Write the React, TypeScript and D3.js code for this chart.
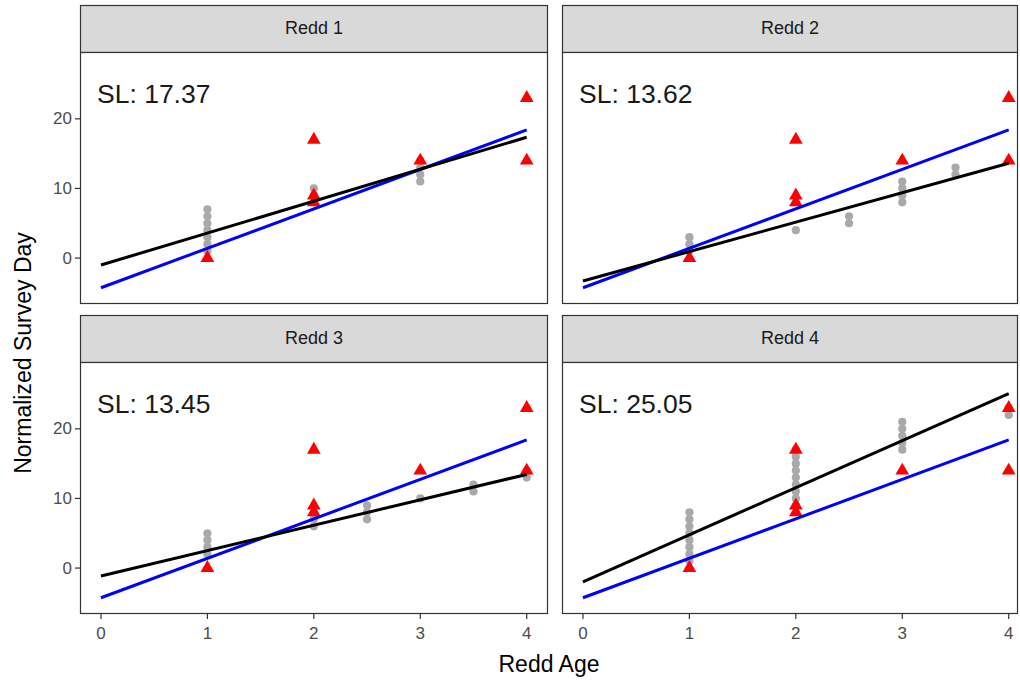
import React from "react";
import * as d3 from "d3";

// ---- data ----
const reddNames = ["Redd 1", "Redd 2", "Redd 3", "Redd 4"];
const slValues = [17.37, 13.62, 13.45, 25.05];
const blackIntercepts = [-1.0, -3.3, -1.15, -1.97];
const blackSlopes = [4.59, 4.23, 3.65, 6.755];
const blueIntercept = -4.27;
const blueSlope = 5.67;

const redAges = [1, 2, 2, 2, 3, 4, 4];
const redDays = [0, 17, 9, 8, 14, 23, 14];

const grayAges1 = [1, 1, 1, 1, 1, 1, 1, 2, 2, 2, 3, 3, 3, 3];
const grayDays1 = [1, 2, 3, 4, 5, 6, 7, 8, 9, 10, 11, 12, 13, 14];
const grayAges2 = [1, 1, 1, 2, 2.5, 2.5, 3, 3, 3, 3, 3.5, 3.5];
const grayDays2 = [1, 2, 3, 4, 5, 6, 8, 9, 10, 11, 12, 13];
const grayAges3 = [1, 1, 1, 1, 2, 2, 2, 2.5, 2.5, 2.5, 3, 3.5, 3.5, 4, 4];
const grayDays3 = [2, 3, 4, 5, 6, 7, 8, 7, 8, 9, 10, 11, 12, 13, 14];
const grayAges4 = [1, 1, 1, 1, 1, 1, 1, 1, 2, 2, 2, 2, 2, 2, 2, 2, 2, 3, 3, 3, 3, 3, 4, 4];
const grayDays4 = [1, 2, 3, 4, 5, 6, 7, 8, 9, 10, 11, 12, 13, 14, 15, 16, 17, 17, 18, 19, 20, 21, 22, 23];
const grayAges = [grayAges1, grayAges2, grayAges3, grayAges4];
const grayDays = [grayDays1, grayDays2, grayDays3, grayDays4];

const xTicks = [0, 1, 2, 3, 4];
const yTicks = [0, 10, 20];
const xDomain: [number, number] = [-0.197, 4.2];
const yDomain: [number, number] = [-6.6, 29.6];

// ---- layout ----
const W = 1020;
const H = 682;
const colLeft = [80, 562];
const colRight = [548, 1018];
const rowStripTop = [5, 315];
const rowPanelTop = [52, 362];
const rowPanelBottom = [304, 614];
const panelWidth = 468;

const FONT = "'Liberation Sans', Arial, sans-serif";

function Panel({ i }: { i: number }) {
  const col = i % 2;
  const row = Math.floor(i / 2);
  const x0 = colLeft[col];
  const x = d3.scaleLinear().domain(xDomain).range([x0, x0 + panelWidth]);
  const y = d3
    .scaleLinear()
    .domain(yDomain)
    .range([rowPanelBottom[row], rowPanelTop[row]]);
  const pw = colRight[col] - x0;
  const ph = rowPanelBottom[row] - rowPanelTop[row];
  const clipId = `clip${i}`;
  const tri = d3.symbol().type(d3.symbolTriangle).size(82)();
  const blackFn = (a: number) => blackIntercepts[i] + blackSlopes[i] * a;
  const blueFn = (a: number) => blueIntercept + blueSlope * a;
  const lineXs = [0, 4];
  const bl = d3
    .line<number>()
    .x((d) => x(d))
    .y((d) => y(blackFn(d)));
  const bu = d3
    .line<number>()
    .x((d) => x(d))
    .y((d) => y(blueFn(d)));
  return (
    <g>
      <defs>
        <clipPath id={clipId}>
          <rect x={x0} y={rowPanelTop[row]} width={pw} height={ph} />
        </clipPath>
      </defs>
      {/* strip */}
      <rect
        x={x0 + 0.5}
        y={rowStripTop[row] + 0.5}
        width={pw - 1}
        height={rowPanelTop[row] - rowStripTop[row]}
        fill="#D9D9D9"
        stroke="#333333"
        strokeWidth={1.2}
      />
      <text
        x={x0 + pw / 2}
        y={(rowStripTop[row] + rowPanelTop[row]) / 2 + 1}
        textAnchor="middle"
        dominantBaseline="middle"
        fontFamily={FONT}
        fontSize={18}
        fill="#1A1A1A"
      >
        {reddNames[i]}
      </text>
      <rect x={x0} y={rowPanelTop[row]} width={pw} height={ph} fill="white" />
      <g clipPath={`url(#${clipId})`}>
        {grayAges[i].map((a, k) => (
          <circle key={k} cx={x(a)} cy={y(grayDays[i][k])} r={4.1} fill="#A9A9A9" />
        ))}
        {redAges.map((a, k) => (
          <path key={k} d={tri!} transform={`translate(${x(a)},${y(redDays[k])})`} fill="#FF0000" />
        ))}
        <path d={bu(lineXs)!} stroke="#0000FF" strokeWidth={3} fill="none" />
        <path d={bl(lineXs)!} stroke="#000000" strokeWidth={3} fill="none" />
      </g>
      <text
        x={x0 + 17}
        y={rowPanelTop[row] + 51}
        fontFamily={FONT}
        fontSize={26.5}
        fill="#1A1A1A"
      >
        {`SL: ${slValues[i].toFixed(2)}`}
      </text>
      <rect
        x={x0 + 0.5}
        y={rowPanelTop[row] + 0.5}
        width={pw - 1}
        height={ph - 1}
        fill="none"
        stroke="#333333"
        strokeWidth={1.2}
      />
      {/* y axis on left column */}
      {col === 0 &&
        yTicks.map((t) => (
          <g key={t}>
            <line x1={x0 - 5} x2={x0} y1={y(t)} y2={y(t)} stroke="#333333" strokeWidth={1.2} />
            <text
              x={x0 - 8}
              y={y(t)}
              textAnchor="end"
              dominantBaseline="central"
              fontFamily={FONT}
              fontSize={17}
              fill="#4D4D4D"
            >
              {t}
            </text>
          </g>
        ))}
      {/* x axis on bottom row */}
      {row === 1 &&
        xTicks.map((t) => (
          <g key={t}>
            <line
              x1={x(t)}
              x2={x(t)}
              y1={rowPanelBottom[row]}
              y2={rowPanelBottom[row] + 5}
              stroke="#333333"
              strokeWidth={1.2}
            />
            <text
              x={x(t)}
              y={rowPanelBottom[row] + 19}
              textAnchor="middle"
              dominantBaseline="central"
              fontFamily={FONT}
              fontSize={17}
              fill="#4D4D4D"
            >
              {t}
            </text>
          </g>
        ))}
    </g>
  );
}

export default function App() {
  return (
    <div style={{ position: "absolute", left: 0, top: 0 }}>
      <svg width={W} height={H} style={{ display: "block", background: "white" }}>
        <rect x={0} y={0} width={W} height={H} fill="white" />
        {[0, 1, 2, 3].map((i) => (
          <Panel key={i} i={i} />
        ))}
        <text
          transform={`translate(23,${(rowPanelTop[0] + rowPanelBottom[1]) / 2 + 20}) rotate(-90)`}
          textAnchor="middle"
          dominantBaseline="central"
          fontFamily={FONT}
          fontSize={23}
          fill="#000000"
        >
          Normalized Survey Day
        </text>
        <text
          x={549}
          y={664}
          textAnchor="middle"
          dominantBaseline="central"
          fontFamily={FONT}
          fontSize={23}
          fill="#000000"
        >
          Redd Age
        </text>
      </svg>
    </div>
  );
}
